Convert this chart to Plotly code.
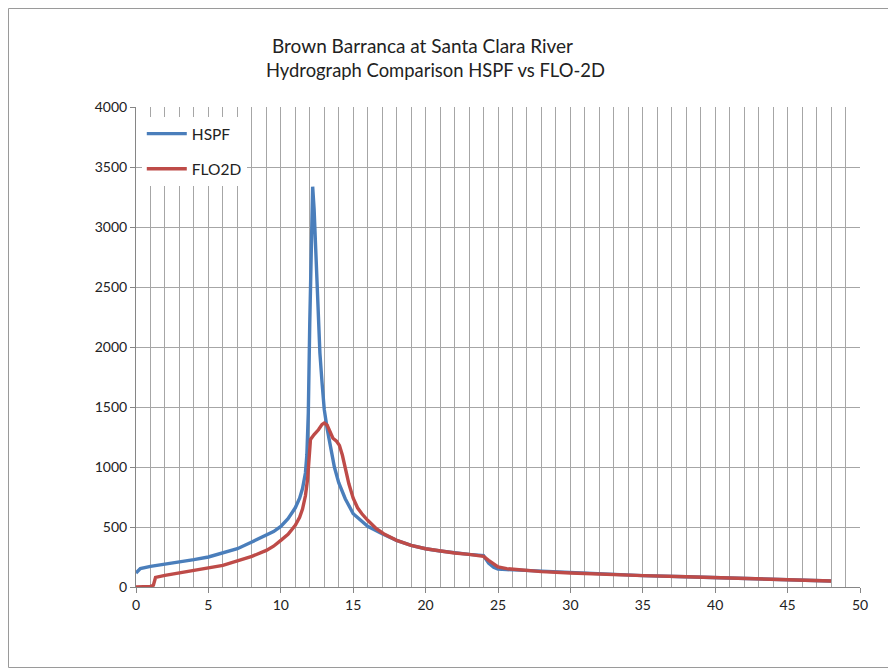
import plotly.graph_objects as go

# HSPF hydrograph (hours, cfs)
hspf_t = [0, 0.3, 1, 2, 3, 4, 5, 6, 7, 8, 9, 9.5, 10, 10.5, 11, 11.3, 11.5, 11.7, 11.8, 11.9, 12.0, 12.1, 12.2,
          12.3, 12.4, 12.5, 12.6, 12.7, 12.85, 13.0, 13.2, 13.4, 13.7, 14.0, 14.45, 15.0, 15.5, 16.0, 17, 18,
          19, 20, 21, 22, 23, 24, 24.35, 24.7, 25, 25.6, 26.5, 28, 30, 32, 35, 38, 40, 43, 46, 48]
hspf_q = [117, 153, 172, 189, 208, 228, 250, 283, 319, 375, 430, 462, 505, 570, 660, 740, 820, 950, 1100, 1450, 2200, 3000, 3336,
          3150, 2800, 2450, 2200, 1950, 1700, 1480, 1320, 1180, 1000, 870, 736, 611, 556, 506, 444, 389,
          347, 319, 300, 283, 272, 262, 200, 165, 150, 145, 140, 127, 117, 106, 95, 85, 78, 65, 55, 50]

# FLO-2D hydrograph (hours, cfs)
flo_t = [0, 0.5, 1.0, 1.2, 1.35, 2, 3, 4, 5, 6, 7, 8, 9, 9.5, 10, 10.5, 11, 11.3, 11.5, 11.7, 11.85, 11.95, 12.05,
         12.3, 12.6, 12.85, 13.0, 13.2, 13.4, 13.6, 13.85, 14.05, 14.25, 14.45, 14.7, 15.0, 15.3, 15.6, 16.0,
         16.6, 17.1, 18, 19, 20, 21, 22, 23, 23.8, 24.0, 24.35, 24.7, 25.0, 25.6, 26.5, 28, 30, 32, 35,
         38, 40, 43, 46, 48]
flo_q = [0, 0, 5, 15, 80, 97, 117, 133, 153, 180, 217, 255, 305, 340, 389, 440, 514, 580, 650, 760, 900, 1100, 1230,
         1270, 1310, 1355, 1367, 1350, 1290, 1240, 1215, 1180, 1100, 980, 860, 740, 660, 610, 556,
         486, 444, 389, 347, 319, 300, 283, 272, 264, 255, 222, 189, 167, 153, 144, 128, 117, 106, 95,
         85, 78, 65, 55, 50]

x_ticks = [0, 5, 10, 15, 20, 25, 30, 35, 40, 45, 50]
y_ticks = [0, 500, 1000, 1500, 2000, 2500, 3000, 3500, 4000]

title_lines = ["Brown Barranca at Santa Clara River", "Hydrograph Comparison HSPF vs FLO-2D"]

BLUE = "#4a7ebb"
RED = "#be4b48"
GRID = "#a6a6a6"
FONT = "Lato"
TXT = "#222222"

fig = go.Figure()
fig.add_trace(go.Scatter(x=hspf_t, y=hspf_q, mode="lines", name="HSPF", legendgroup="a",
                         line=dict(color=BLUE, width=3.4)))
fig.add_trace(go.Scatter(x=flo_t, y=flo_q, mode="lines", name="FLO2D", legendgroup="b",
                         line=dict(color=RED, width=3.4)))

# page body has an 8px margin, so figure coords = reference coords - 8
OFF = 8
W, H = 888, 662
L, R, T, B = 128, 36, 99, 83
pw, ph = W - L - R, H - T - B

def px_to_paper_x(px):
    return (px - OFF - L) / pw

def py_to_paper_y(py):
    return (H - B - (py - OFF)) / ph

fig.update_layout(
    width=W, height=H,
    margin=dict(l=L, r=R, t=T, b=B),
    paper_bgcolor="white", plot_bgcolor="white",
    font=dict(family=FONT, size=12, color=TXT),
    showlegend=True,
    legend=dict(x=0.008, y=0.979, xanchor="left", yanchor="top", bgcolor="white",
                font=dict(family=FONT, size=15.5, color=TXT), tracegroupgap=12,
                itemwidth=40),
    xaxis=dict(range=[0, 50], tickvals=x_ticks, ticks="outside", ticklen=5, tickcolor="#868686",
               showgrid=True, gridcolor=GRID, gridwidth=1,
               minor=dict(dtick=1, showgrid=True, gridcolor=GRID, gridwidth=1),
               showline=True, linecolor="#868686", linewidth=1, zeroline=False,
               tickfont=dict(family=FONT, size=14, color=TXT)),
    yaxis=dict(range=[0, 4000], tickvals=y_ticks, ticks="outside", ticklen=5, tickcolor="#868686",
               showgrid=True, gridcolor=GRID, gridwidth=1,
               showline=True, linecolor="#868686", linewidth=1, zeroline=False,
               tickfont=dict(family=FONT, size=14, color=TXT)),
    annotations=[
        dict(text=title_lines[0], xref="paper", yref="paper",
             x=px_to_paper_x(270), y=py_to_paper_y(45), xanchor="left", yanchor="middle",
             showarrow=False, font=dict(family=FONT, size=19, color=TXT)),
        dict(text=title_lines[1], xref="paper", yref="paper",
             x=px_to_paper_x(264), y=py_to_paper_y(70), xanchor="left", yanchor="middle",
             showarrow=False, font=dict(family=FONT, size=18.4, color=TXT)),
    ],
    shapes=[
        dict(type="rect", xref="paper", yref="paper",
             x0=px_to_paper_x(8.5), x1=px_to_paper_x(894.5),
             y0=py_to_paper_y(667.5), y1=py_to_paper_y(8.5),
             line=dict(color="#9a9a9a", width=1), fillcolor="rgba(0,0,0,0)", layer="below"),
    ],
)

fig.write_html("out.html")
